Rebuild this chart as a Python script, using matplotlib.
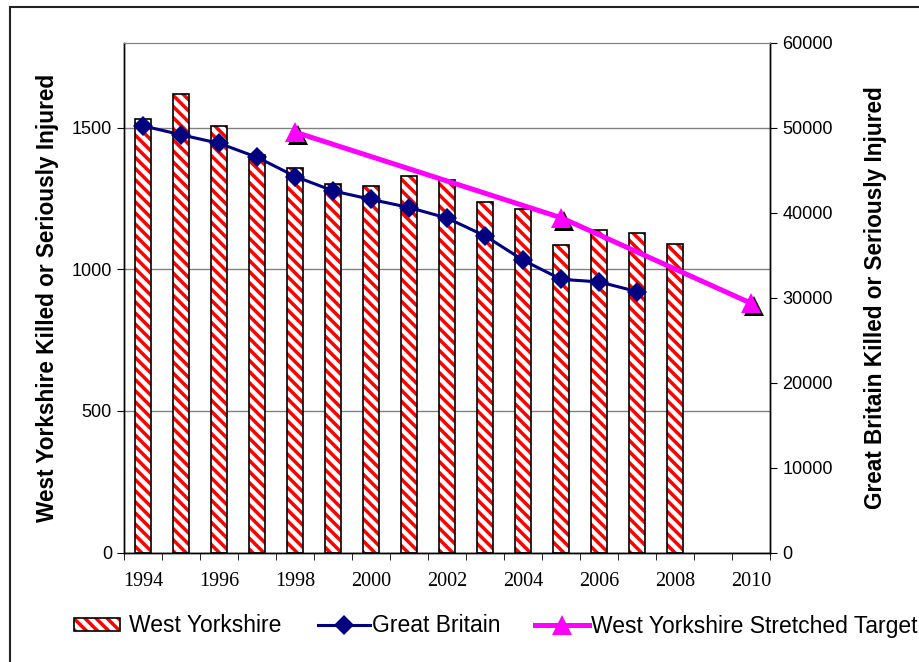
import matplotlib

matplotlib.use("Agg")

import matplotlib.pyplot as plt
from matplotlib.lines import Line2D
from matplotlib.patches import Patch, Rectangle
from matplotlib.legend_handler import HandlerTuple
from matplotlib.transforms import offset_copy

years = list(range(1994, 2011))
wy_years = list(range(1994, 2009))
wy_ksi = [1530, 1620, 1505, 1405, 1358, 1300, 1293, 1328, 1316, 1238, 1212, 1085, 1140, 1127, 1090]
gb_years = list(range(1994, 2008))
gb_ksi = [50200, 49150, 48150, 46500, 44250, 42550, 41550, 40600, 39350, 37250, 34400, 32150, 31850, 30700]
target_years = [1998, 2005, 2010]
target_ksi = [1484, 1182, 880]
tick_years = list(range(1994, 2011, 2))
legend_labels = ["West Yorkshire", "Great Britain", "West Yorkshire Stretched Target"]

SANS = "Liberation Sans"
SERIF = "Liberation Serif"
plt.rcParams["font.family"] = SANS
plt.rcParams["hatch.linewidth"] = 2.5

RED = "#ff0000"
NAVY = "#000080"
MAGENTA = "#ff00ff"
HATCH = "\\\\\\"


def xpos(yrs):
    return [y - years[0] for y in yrs]


fig = plt.figure(figsize=(9.2, 6.62), dpi=100)
ax = fig.add_axes([0.1353, 0.1654, 0.837 - 0.1353, 0.9355 - 0.1654])
ax2 = ax.twinx()

# striped bars: red hatch layer, then a black outline on top
ax.bar(xpos(wy_years), wy_ksi, width=0.42, facecolor="white", edgecolor=RED,
       hatch=HATCH, linewidth=0, zorder=2)
ax.bar(xpos(wy_years), wy_ksi, width=0.42, fill=False, edgecolor="black",
       linewidth=1.2, zorder=3)

# stretched target with a drop shadow under the triangles
shadow = offset_copy(ax.transData, fig=fig, x=3, y=-3, units="dots")
ax.plot(xpos(target_years), target_ksi, linestyle="none", marker="^",
        markersize=15, color="black", markeredgewidth=0, transform=shadow, zorder=4)
ax.plot(xpos(target_years), target_ksi, color=MAGENTA, linewidth=3.6,
        marker="^", markersize=15, markeredgewidth=0, zorder=5)

ax2.plot(xpos(gb_years), gb_ksi, color=NAVY, linewidth=2.2, marker="D",
         markersize=10, markeredgewidth=0, zorder=6)

ax.set_xlim(-0.5, len(years) - 0.5)
ax.set_ylim(0, 1800)
ax2.set_ylim(0, 60000)

ax.set_yticks([0, 500, 1000, 1500])
ax2.set_yticks(range(0, 60001, 10000))
ax.grid(axis="y", color="#808080", linewidth=1)
ax.set_axisbelow(True)

ax.set_xticks(xpos(tick_years))
ax.set_xticklabels([str(y) for y in tick_years], fontfamily=SERIF, fontsize=14.5)
ax.set_xticks([i - 0.5 for i in range(len(years) + 1)], minor=True)
ax.tick_params(axis="x", which="major", length=0, pad=14)
ax.tick_params(axis="x", which="minor", length=5, direction="out")
ax.tick_params(axis="y", labelsize=13, length=5, pad=4)
ax2.tick_params(axis="y", labelsize=13, length=5, pad=4)

for a in (ax, ax2):
    for side in ("left", "right", "bottom"):
        a.spines[side].set_color("black")
        a.spines[side].set_linewidth(1)
    a.spines["top"].set_color("#808080")

ax.set_ylabel("West Yorkshire Killed or Seriously Injured", fontsize=16.3,
              fontweight="bold", labelpad=9)
ax2.set_ylabel("Great Britain Killed or Seriously Injured", fontsize=16.3,
               fontweight="bold", labelpad=22)

bar_handle = (Patch(facecolor="white", edgecolor=RED, hatch=HATCH, linewidth=0),
              Patch(fill=False, edgecolor="black", linewidth=1.2))
gb_handle = Line2D([], [], color=NAVY, linewidth=2.2, marker="D", markersize=10,
                   markeredgewidth=0)
target_handle = Line2D([], [], color=MAGENTA, linewidth=3.6, marker="^",
                       markersize=15, markeredgewidth=0)

# one legend entry per box so each sits where it belongs along the bottom
entries = [
    (bar_handle, legend_labels[0], 74, 2.0, 0.4),
    (gb_handle, legend_labels[1], 318, 2.25, 0.12),
    (target_handle, legend_labels[2], 535, 2.35, 0.08),
]
for handle, label, x_px, hlen, tpad in entries:
    fig.legend([handle], [label], handler_map={tuple: HandlerTuple(ndivide=1)},
               loc="center left", bbox_to_anchor=(x_px / 920, 1 - 626 / 662),
               frameon=False, fontsize=16.5, handlelength=hlen, handleheight=0.5,
               handletextpad=tpad, numpoints=1, borderpad=0, borderaxespad=0)

# outer chart border (right and bottom edges fall outside the canvas)
fig.patches.append(Rectangle((10 / 920, -0.05), 1.0, 1 - 7 / 662 + 0.05,
                             transform=fig.transFigure, fill=False,
                             edgecolor="#222222", linewidth=1.5))

fig.savefig("out.png", dpi=100, facecolor="white")
